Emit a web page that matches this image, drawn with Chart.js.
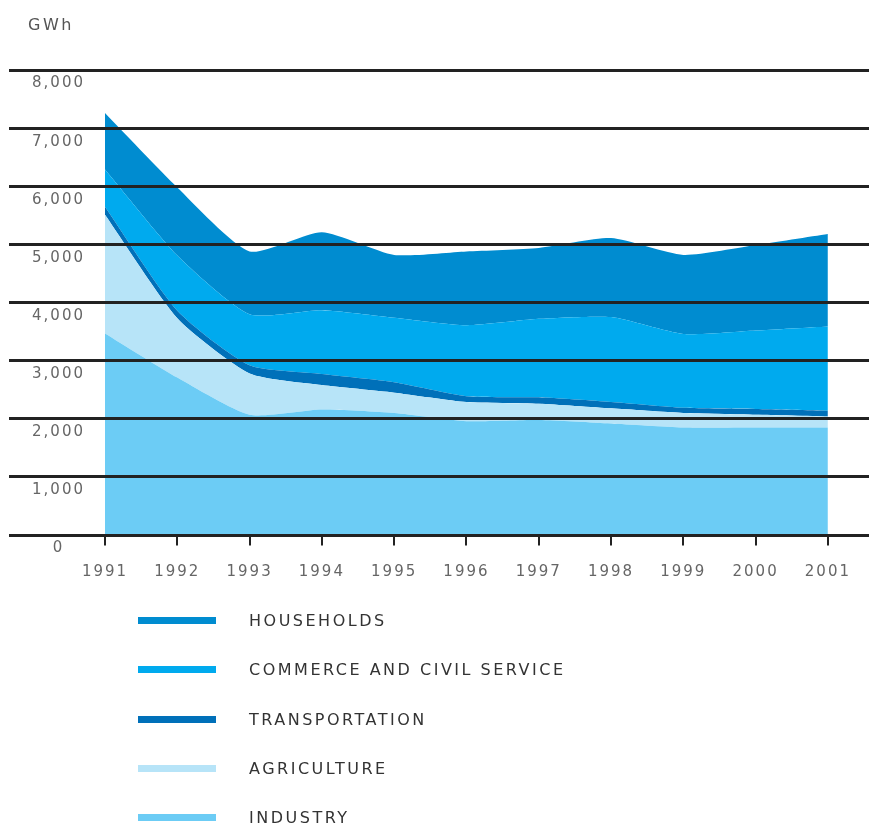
<!DOCTYPE html>
<html>
<head>
<meta charset="utf-8">
<title>Electricity consumption by sector</title>
<script src="https://cdn.jsdelivr.net/npm/chart.js@4.4.1/dist/chart.umd.min.js"></script>
<style>
  html, body { margin: 0; padding: 0; background: #fff; }
  #wrap { position: relative; width: 869px; height: 828px; overflow: hidden; }
  #chart { position: absolute; left: 0; top: 0; }
  #unit { position: absolute; left: 28px; top: 15px; font: 16px "DejaVu Sans", sans-serif; letter-spacing: 2.5px; color: #555; line-height: 20px; }
  #legend { position: absolute; left: 0; top: 596px; width: 869px; }
  .leg-row { height: 49.25px; display: flex; align-items: center; }
  .leg-swatch { margin-left: 138px; width: 78px; height: 7px; flex: none; }
  .leg-text { margin-left: 33px; font: 16px "DejaVu Sans", sans-serif; letter-spacing: 2.5px; color: #333; white-space: nowrap; }
</style>
</head>
<body>
<div id="wrap">
  <canvas id="chart" width="869" height="600"></canvas>
  <div id="unit">GWh</div>
  <div id="legend"></div>
</div>
<script>
// ── Data (GWh) ────────────────────────────────────────────────────────────────
const years = ['1991', '1992', '1993', '1994', '1995', '1996', '1997', '1998', '1999', '2000', '2001'];

const industry    = [3460, 2700, 2060, 2150, 2090, 1950, 1970, 1910, 1840, 1840, 1840];
const agriculture = [2040, 1020,  710,  420,  350,  330,  280,  260,  250,  220,  190];
const transport   = [ 140,  130,  140,  190,  180,  100,  110,  110,   90,  100,  100];
const commerce    = [ 640,  950,  880, 1100, 1110, 1220, 1350, 1460, 1270, 1350, 1450];
const households  = [ 970, 1170, 1080, 1340, 1080, 1270, 1220, 1360, 1360, 1470, 1590];

const yTicks = [0, 1000, 2000, 3000, 4000, 5000, 6000, 7000, 8000];

// ── Style ─────────────────────────────────────────────────────────────────────
const FONT = '"DejaVu Sans", sans-serif';
const LINE = '#222';
const AXIS_TEXT = '#666';

// stacking goes bottom → top
const series = [
  { label: 'INDUSTRY',                   data: industry,    color: '#6CCCF5' },
  { label: 'AGRICULTURE',                data: agriculture, color: '#B7E4F8' },
  { label: 'TRANSPORTATION',             data: transport,   color: '#0070B9' },
  { label: 'COMMERCE AND CIVIL SERVICE', data: commerce,    color: '#00AAEE' },
  { label: 'HOUSEHOLDS',                 data: households,  color: '#008CD0' },
];

// ── Plugins ───────────────────────────────────────────────────────────────────
// wide letter spacing on all canvas text
const spacing = {
  id: 'spacing',
  beforeUpdate(chart) { chart.ctx.letterSpacing = '2px'; },
  beforeDraw(chart) { chart.ctx.letterSpacing = '2px'; },
};

// heavy rules across the full width, on top of the areas
const rules = {
  id: 'rules',
  afterDatasetsDraw(chart) {
    const { ctx, scales: { y } } = chart;
    ctx.save();
    ctx.strokeStyle = LINE;
    ctx.lineWidth = 3;
    yTicks.forEach(v => {
      const py = Math.round(y.getPixelForValue(v)) + 0.5;
      ctx.beginPath();
      ctx.moveTo(9, py);
      ctx.lineTo(chart.width, py);
      ctx.stroke();
    });
    ctx.restore();
  },
};

// ── Chart ─────────────────────────────────────────────────────────────────────
new Chart(document.getElementById('chart'), {
  type: 'line',
  data: {
    labels: years,
    datasets: series.map((s, i) => ({
      label: s.label,
      data: s.data,
      backgroundColor: s.color,
      borderColor: s.color,
      borderWidth: 0,
      pointRadius: 0,
      fill: i === 0 ? 'origin' : '-1',
      tension: 0.2,
    })),
  },
  options: {
    responsive: false,
    devicePixelRatio: 1,
    animation: false,
    layout: { padding: { left: 0, right: 40, top: 69.5, bottom: 15.5 } },
    plugins: {
      legend: { display: false },
      tooltip: { enabled: false },
      title: { display: false },
    },
    scales: {
      x: {
        offset: false,
        grid: { drawOnChartArea: false, drawTicks: true, tickLength: 11, color: LINE, lineWidth: 2 },
        border: { display: false },
        ticks: { color: AXIS_TEXT, font: { family: FONT, size: 15 }, padding: 18, maxRotation: 0, autoSkip: false },
        afterFit(scale) { scale.height = 50; },
      },
      y: {
        stacked: true,
        min: 0,
        max: 8000,
        grid: { display: false },
        border: { display: false },
        afterBuildTicks(scale) { scale.ticks = yTicks.map(v => ({ value: v })); },
        ticks: {
          color: AXIS_TEXT,
          font: { family: FONT, size: 15 },
          crossAlign: 'center',
          padding: 12,
          labelOffset: 14,
          callback: v => v.toLocaleString('en-US'),
        },
        afterFit(scale) { scale.width = 105; },
      },
    },
  },
  plugins: [spacing, rules],
});

// ── Legend (top series first) ─────────────────────────────────────────────────
document.getElementById('legend').innerHTML = series.slice().reverse().map(s => `
  <div class="leg-row">
    <div class="leg-swatch" style="background:${s.color}"></div>
    <div class="leg-text">${s.label}</div>
  </div>`).join('');
</script>
</body>
</html>
